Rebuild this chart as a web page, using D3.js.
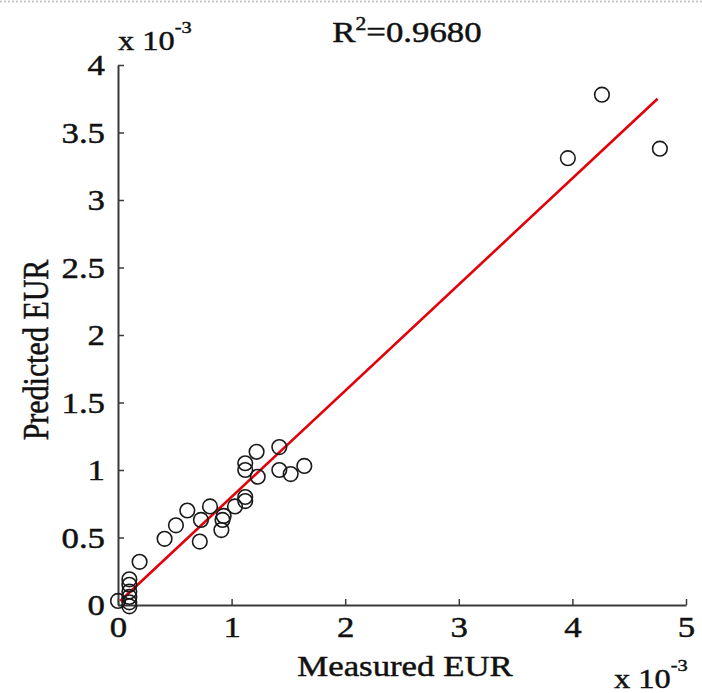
<!DOCTYPE html>
<html>
<head>
<meta charset="utf-8">
<script src="https://cdn.jsdelivr.net/npm/d3@7"></script>
<style>
  html, body { margin: 0; padding: 0; background: #fff; }
  svg { display: block; }
  text { font-family: "Liberation Serif", "Times New Roman", serif; fill: #111; stroke: #111; stroke-width: 0.45px; }
</style>
</head>
<body>
<script>
// ---- data (units of 1e-3) ----
const measured  = [0.00, 0.10, 0.10, 0.10, 0.10, 0.10, 0.10, 0.19, 0.41, 0.51, 0.61, 0.72, 0.73, 0.81, 0.91, 0.92, 0.93, 1.03, 1.12, 1.12, 1.12, 1.12, 1.22, 1.23, 1.42, 1.42, 1.52, 1.64, 3.96, 4.26, 4.77];
const predicted = [0.03, 0.19, 0.15, 0.10, 0.06, 0.02, -0.01, 0.32, 0.49, 0.59, 0.70, 0.47, 0.63, 0.73, 0.555, 0.63, 0.66, 0.73, 0.77, 0.80, 1.00, 1.05, 1.135, 0.95, 1.17, 1.00, 0.97, 1.03, 3.31, 3.78, 3.38];
const fitMeasured  = [0.02, 4.75];
const fitPredicted = [0.03, 3.75];
const xTicks = [0, 1, 2, 3, 4, 5];
const xTickLabels = ["0", "1", "2", "3", "4", "5"];
const yTicks = [0, 0.5, 1, 1.5, 2, 2.5, 3, 3.5, 4];
const yTickLabels = ["0", "0.5", "1", "1.5", "2", "2.5", "3", "3.5", "4"];
const xLabel = "Measured EUR";
const yLabel = "Predicted EUR";
const r2Text = "0.9680";

const W = 702, H = 693;
const SX = 1.2; // horizontal stretch of the text in the reference
const svg = d3.select("body").append("svg").attr("width", W).attr("height", H);

// top dotted border artifact
svg.append("line").attr("x1", 0).attr("x2", W).attr("y1", 1.5).attr("y2", 1.5)
  .attr("stroke", "#c8c8c8").attr("stroke-width", 2).attr("stroke-dasharray", "2,2");

const x = d3.scaleLinear().domain([0, 5]).range([118, 686]);
const y = d3.scaleLinear().domain([0, 4]).range([605, 65]);

const axisColor = "#3a3a3a";

const xAxis = d3.axisBottom(x).tickValues(xTicks)
  .tickFormat((d, i) => xTickLabels[i]).tickSizeInner(-6).tickSizeOuter(0).tickPadding(11);
const yAxis = d3.axisLeft(y).tickValues(yTicks)
  .tickFormat((d, i) => yTickLabels[i]).tickSizeInner(-6).tickSizeOuter(0).tickPadding(13);

const gx = svg.append("g").attr("transform", `translate(0,${y(0)})`).call(xAxis);
const gy = svg.append("g").attr("transform", `translate(${x(0)},0)`).call(yAxis);

[gx, gy].forEach(g => {
  g.select(".domain").attr("stroke", axisColor).attr("stroke-width", 2);
  g.selectAll(".tick line").attr("stroke", axisColor).attr("stroke-width", 1.5);
  g.selectAll(".tick text")
    .attr("font-family", "Liberation Serif, serif")
    .attr("font-size", 29).attr("fill", "#111");
});
gx.selectAll(".tick text").attr("dy", "0.71em").attr("transform", `scale(${SX},1)`);
gy.selectAll(".tick text").attr("x", -13 / SX).attr("dy", "0.34em").attr("transform", `scale(${SX},1)`);

// fit line
svg.append("line")
  .attr("x1", x(fitMeasured[0])).attr("y1", y(fitPredicted[0]))
  .attr("x2", x(fitMeasured[1])).attr("y2", y(fitPredicted[1]))
  .attr("stroke", "#e3000b").attr("stroke-width", 2.6);

// points
svg.append("g").selectAll("circle")
  .data(measured.map((m, i) => [m, predicted[i]]))
  .join("circle")
  .attr("cx", d => x(d[0])).attr("cy", d => y(d[1])).attr("r", 7.3)
  .attr("fill", "none").attr("stroke", "#1a1a1a").attr("stroke-width", 1.6);

// helper for stretched text
function stext(px, py, opts) {
  const g = svg.append("g").attr("transform", `translate(${px},${py}) scale(${SX},1)`);
  return g.append("text").attr("font-size", opts.size).attr("text-anchor", opts.anchor || "start");
}

// title R^2
{
  const t = stext(407, 42, { size: 29, anchor: "middle" });
  t.append("tspan").text("R");
  t.append("tspan").attr("font-size", 18).attr("dy", -12).text("2");
  t.append("tspan").attr("dy", 12).text("=" + r2Text);
}

// x 10^-3 top-left
{
  const t = stext(118, 50, { size: 27 });
  t.append("tspan").text("x 10");
  t.append("tspan").attr("font-size", 17).attr("dy", -17).text("-3");
}
// x 10^-3 bottom-right
{
  const t = stext(614, 688, { size: 27 });
  t.append("tspan").text("x 10");
  t.append("tspan").attr("font-size", 17).attr("dy", -17).text("-3");
}

// axis labels
stext(405, 676, { size: 29, anchor: "middle" }).text(xLabel);
svg.append("g").attr("transform", `translate(48,350) rotate(-90) scale(1,${SX})`)
  .append("text").attr("font-size", 30).attr("text-anchor", "middle").text(yLabel);
</script>
</body>
</html>
